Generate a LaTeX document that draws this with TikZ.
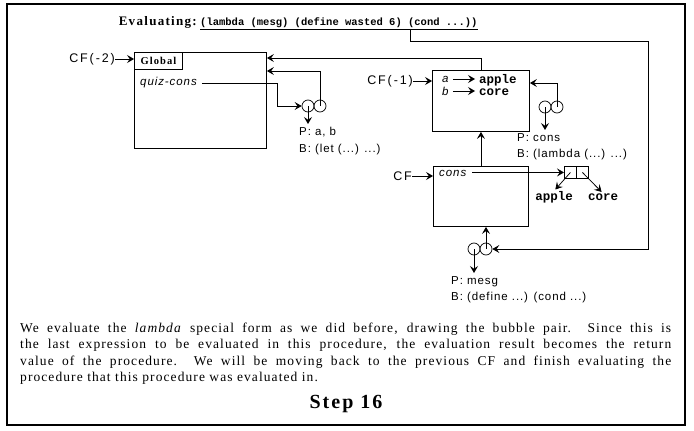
\documentclass[tikz,border=0pt]{standalone}
\usepackage{fontspec}
\setmainfont{Liberation Serif}
\setsansfont{Liberation Sans}
\setmonofont{Liberation Mono}
\newfontfamily\lblfont[LetterSpace=8]{Liberation Sans}
\newfontfamily\cffont[LetterSpace=15]{Liberation Sans}
\newfontfamily\serfont[LetterSpace=8]{Liberation Serif}
\newfontfamily\headfont[LetterSpace=10]{Liberation Serif}
\usetikzlibrary{arrows.meta,positioning}

\begin{document}
\begin{tikzpicture}[x=1pt, y=-1pt,
    envbox/.style={draw, line width=0.9pt, anchor=north west, inner sep=0pt},
    tagbox/.style={draw, line width=0.9pt, anchor=north west, inner sep=0pt,
        font=\headfont\bfseries\fontsize{10.5}{12}\selectfont},
    bubble/.style={draw, circle, line width=0.7pt, minimum size=12pt, inner sep=0pt},
    cell/.style={draw, line width=0.9pt, anchor=north west,
        minimum width=12pt, minimum height=12pt, inner sep=0pt},
    lbl/.style={font=\lblfont\fontsize{11.5}{16.5}\selectfont, align=left,
        inner sep=0pt, anchor=north west},
    cflbl/.style={font=\cffont\fontsize{12.5}{14}\selectfont, inner sep=0pt, anchor=east},
    var/.style={font=\lblfont\itshape\fontsize{11.5}{13}\selectfont, inner sep=0pt, anchor=west},
    val/.style={font=\ttfamily\bfseries\fontsize{12.5}{14}\selectfont, inner sep=0pt},
    para/.style={font=\serfont\fontsize{13.5}{16.5}\selectfont, inner sep=0pt, anchor=base west},
    arrow/.style={-{Stealth[length=7pt,width=8pt,inset=2.8pt]}, line width=0.75pt}
]
\useasboundingbox (0,0) rectangle (694,431);
\draw[line width=1.1pt] (7,4) rectangle (685,425);

\node[font=\headfont\bfseries\fontsize{13}{15}\selectfont, anchor=base east, inner sep=0pt] (evalhd) at (197,25) {Evaluating:};
\node[font=\ttfamily\bfseries\fontsize{10.5}{13}\selectfont, anchor=base west, inner sep=0pt] (evalexp) at (200,25) {(lambda (mesg) (define wasted 6) (cond ...))};
\draw[line width=0.8pt] ([yshift=-1.5pt]evalexp.south west) -- ([yshift=-1.5pt]evalexp.south east);
\coordinate (drop) at ([xshift=210pt, yshift=-1.5pt]evalexp.south west);
\coordinate (bend) at (648,41);

% global frame
\node[envbox, minimum width=132pt, minimum height=96pt] (glob) at (134,52) {};
\node[tagbox, minimum width=48pt, minimum height=17pt] (globtag) at (glob.north west) {Global};
\node[cflbl] (cfm2) at (115,59) {CF(-2)};
\draw[arrow] (cfm2) -- (cfm2 -| glob.west);
\node[var] (qc) at (140,83) {quiz-cons};
\coordinate (qcbend) at (277,83);
\node[bubble] (b1l) at (308,106) {};
\node[bubble] (b1r) at (320,106) {};
\node[lbl] (pab) at (299,127) {P: a, b\\B: (let (...) ...)};
\draw[arrow] ([xshift=5pt]qc.east) -- (qcbend) |- (b1l);
\draw[arrow, shorten >=3pt] (b1l.center) -- (b1l.center |- pab.north);
\draw[arrow] (b1r.center) |- ([yshift=-19pt]glob.north east);

% frame CF(-1)
\node[envbox, minimum width=97pt, minimum height=61pt] (cf1box) at (432,70) {};
\node[cflbl] (cfm1) at (413,81) {CF(-1)};
\draw[arrow] (cfm1) -- (cfm1 -| cf1box.west);
\draw[arrow] (cf1box.north) |- ([yshift=-6pt]glob.north east);
\node[var] (va) at (442,79) {a};
\node[var] (vb) at (442,91) {b};
\node[val, anchor=west] (vapple) at (479,80) {apple};
\node[val, anchor=west] (vcore) at (479,92) {core};
\draw[arrow, shorten >=4pt] ([xshift=4pt]va.east) -- (va.east -| vapple.west);
\draw[arrow, shorten >=4pt] ([xshift=4pt]vb.east) -- (vb.east -| vcore.west);
\node[bubble] (b2l) at (545,107) {};
\node[bubble] (b2r) at (557,107) {};
\node[lbl] (pcons) at (517,133) {P: cons\\B: (lambda (...) ...)};
\draw[arrow] (b2r.center) |- ([yshift=-13pt]cf1box.north east);
\draw[arrow, shorten >=3pt] (b2l.center) -- (b2l.center |- pcons.north);

% frame CF
\node[envbox, minimum width=95pt, minimum height=60pt] (cfbox) at (433,166) {};
\node[cflbl] (cf0) at (412,176) {CF};
\draw[arrow] (cf0) -- (cf0 -| cfbox.west);
\draw[arrow] (cfbox.north) -- (cf1box.south);
\node[var] (vcons) at (439,173) {cons};
\node[cell] (pairl) at (564,166) {};
\node[cell] (pairr) at (576,166) {};
\node[val] (papple) at (554,197) {apple};
\node[val] (pcore) at (603,197) {core};
\draw[arrow] ([xshift=6pt]vcons.east |- pairl.west) -- (pairl.west);
\draw[arrow, shorten >=2pt] (pairl.center) -- (papple.north);
\draw[arrow, shorten >=2pt] (pairr.center) -- (pcore.north);

\node[bubble] (b3l) at (474,249) {};
\node[bubble] (b3r) at (486,249) {};
\node[lbl] (pmesg) at (451,276) {P: mesg\\B: (define ...) (cond ...)};
\draw[arrow] (b3r.center) -- (b3r.center |- cfbox.south);
\draw[arrow, shorten >=3pt] (b3l.center) -- (b3l.center |- pmesg.north);
\draw[arrow] (drop) |- (bend) |- (b3r.east);

% explanation
\node[para] (para1) at (20,332) {\makebox[651pt][s]{We evaluate the \textit{lambda} special form as we did before, drawing the bubble pair.\ \ Since this is}};
\node[para] (para2) at (20,348.5) {\makebox[651pt][s]{the last expression to be evaluated in this procedure, the evaluation result becomes the return}};
\node[para] (para3) at (20,365) {\makebox[651pt][s]{value of the procedure.\ \ We will be moving back to the previous CF and finish evaluating the}};
\node[para] (para4) at (20,381.5) {procedure that this procedure was evaluated in.};
\node[font=\headfont\bfseries\fontsize{20}{22}\selectfont, inner sep=0pt] (steplbl) at (346,404) {Step 16};
\end{tikzpicture}
\end{document}
